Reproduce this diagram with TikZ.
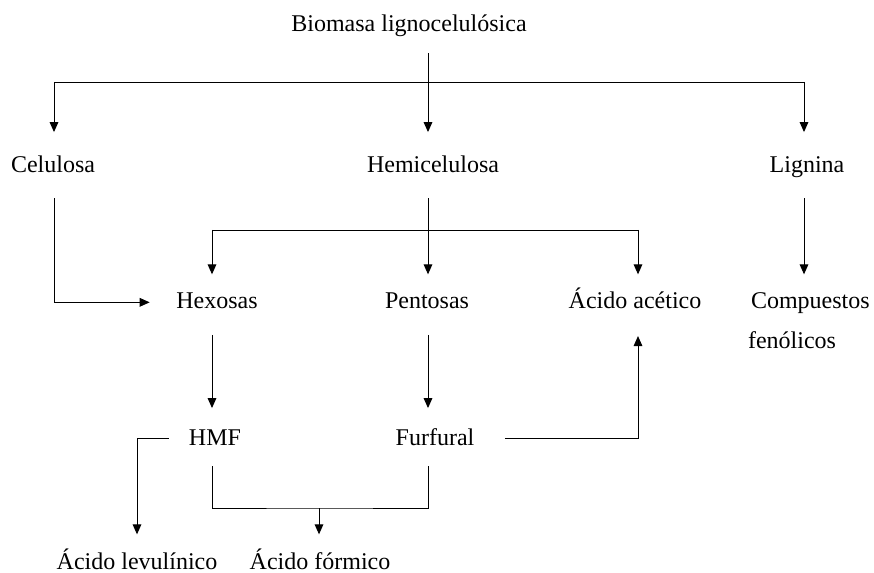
\documentclass[tikz,border=0pt]{standalone}
\usepackage{fontspec}
\setmainfont{Liberation Serif}
\usetikzlibrary{arrows.meta}

\begin{document}
\begin{tikzpicture}[x=0.75pt,y=-0.75pt,line width=0.7pt,
    lbl/.style={anchor=base,inner sep=0pt,outer xsep=0pt,outer ysep=12pt,
        text height=14pt,text depth=4pt,font=\fontsize{18pt}{22pt}\selectfont},
    arr/.style={-{Triangle[length=7.5pt,width=6.5pt]}}]
    \useasboundingbox (0,0) rectangle (874,573);

    \coordinate (J0) at (428,82);
    \coordinate (JL) at (54,82);
    \coordinate (JR) at (804,82);
    \coordinate (J2L) at (212,230);
    \coordinate (J2R) at (638,230);
    \coordinate (J4) at (319,508);

    \node[lbl] (Bio) at (409,32) {Biomasa lignocelulósica};
    \node[lbl] (Cel) at (53,173) {Celulosa};
    \node[lbl] (Hem) at (433,173) {Hemicelulosa};
    \node[lbl] (Lig) at (807,173) {Lignina};
    \node[lbl] (Hex) at (217,309) {Hexosas};
    \node[lbl] (Pen) at (427,309) {Pentosas};
    \node[lbl] (Ace) at (635,309) {Ácido acético};
    \node[lbl,anchor=base west] (Com) at (751,309) {Compuestos};
    \node[lbl,anchor=base west] (Fen) at (748,349) {fenólicos};
    \node[lbl] (HMF) at (215,445) {HMF};
    \node[lbl] (Fur) at (435,445) {Furfural};
    \node[lbl] (Lev) at (137,569) {Ácido levulínico};
    \node[lbl] (For) at (320,569) {Ácido fórmico};

    % biomasa
    \draw[arr,shorten >=4.7pt] (Bio.south -| J0) -- (Hem.north -| J0);
    \draw (JL) -- (JR);
    \draw[arr,shorten >=4.7pt] (JL) -- (Cel.north -| JL);
    \draw[arr,shorten >=4.7pt] (JR) -- (Lig.north -| JR);

    % fracciones
    \draw[arr,shorten <=2.8pt,shorten >=20pt] (Cel.south -| JL) |- (Hex.west);
    \draw[arr,shorten <=2.8pt] (Hem.south -| J0) -- (Pen.north -| J0);
    \draw (J2L) -- (J2R);
    \draw[arr] (J2L) -- (Hex.north -| J2L);
    \draw[arr] (J2R) -- (Ace.north -| J2R);
    \draw[arr,shorten <=2.8pt] (Lig.south -| JR) -- (Com.north -| JR);

    % azucares
    \draw[arr,shorten <=3.5pt,shorten >=1.7pt] (Hex.south -| J2L) -- (HMF.north -| J2L);
    \draw[arr,shorten <=3.5pt,shorten >=1.7pt] (Pen.south -| J0) -- (Fur.north -| J0);
    \draw[arr,shorten <=23pt,shorten >=4.3pt] (Fur.east) -| (Ace.south -| J2R);

    % productos
    \draw[arr,shorten <=15pt] (HMF.west) -| (Lev.north);
    \draw (HMF.south -| J2L) |- (J4) -| (Fur.south -| J0);
    \draw[arr] (J4) -- (For.north -| J4);
\end{tikzpicture}
\end{document}
